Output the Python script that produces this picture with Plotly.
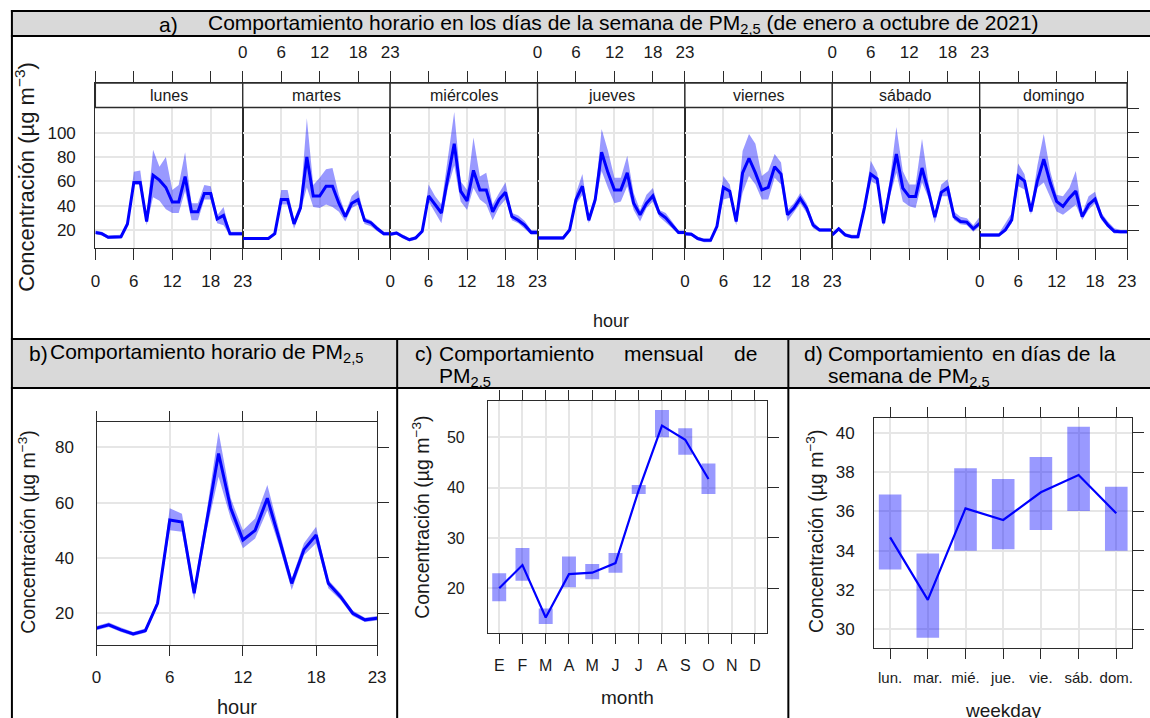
import plotly.graph_objects as go

W, H = 1150, 718

# ---- data -------------------------------------------------------------------
HOURS = list(range(24))
HOUR_TICKS = [0, 6, 12, 18, 23]
DAYS = ["lunes", "martes", "miércoles", "jueves", "viernes", "sábado", "domingo"]

LUNES_MEAN = [18, 17, 14, 14, 14.5, 25, 59, 59, 27, 65, 61, 55, 43, 43, 64, 35, 35, 50, 50, 29, 32, 17, 17, 17]
LUNES_LOW = [16.5, 15.5, 12.5, 12.5, 13, 23, 57, 57, 24, 47, 44, 37, 34, 34, 52, 28, 28, 45, 45, 25.5, 24, 15.5, 15.5, 15.5]
LUNES_HIGH = [19.5, 18.5, 15.5, 15.5, 16, 27, 68, 69, 31, 86, 72, 80, 53, 57, 84, 42, 42, 57, 56, 32, 39, 18.5, 18.5, 18.5]

MARTES_MEAN = [13, 13, 13, 13, 13, 17, 45, 45, 25, 38, 80, 48, 48, 56, 56, 42, 31, 42, 45, 28, 26, 21, 17, 17]
MARTES_LOW = [12, 12, 12, 12, 12, 15.5, 41, 41, 21, 35, 55, 39, 38, 41, 39, 35, 27, 38, 41, 25, 23, 19, 15.5, 15.5]
MARTES_HIGH = [14, 14, 14, 14, 14, 18.5, 53, 53, 28, 43, 112, 57, 63, 70, 71, 49, 34, 48, 53, 30, 28, 23, 18.5, 18.5]

MIERCOLES_MEAN = [16.5, 17.5, 14.5, 12, 13.5, 19, 48, 41, 34, 63, 91, 52, 44, 69, 53, 53, 35, 45, 51, 31, 28, 24, 18, 18]
MIERCOLES_LOW = [15, 16, 13, 10.5, 12, 17.5, 43.5, 35, 25.5, 54.5, 73, 43.5, 36.5, 54.5, 45, 41, 28, 39, 45, 28, 25.5, 21, 16, 16]
MIERCOLES_HIGH = [18, 19, 16, 13.5, 15, 20.5, 57.5, 48, 41, 77, 117, 60, 53, 96, 64, 67, 41, 50.5, 59, 34, 32, 27.5, 20, 20]

JUEVES_MEAN = [13.5, 13.5, 13.5, 13.5, 13.5, 20, 45, 56, 28, 45, 84, 67, 53, 53, 67, 42, 32.5, 42, 48, 34, 30, 24, 18, 18]
JUEVES_LOW = [12, 12, 12, 12, 12, 18.5, 41, 49, 25.5, 41, 68.5, 54.5, 42, 43.5, 56, 36.5, 27, 38, 43.5, 31, 26.5, 21.5, 16.5, 16.5]
JUEVES_HIGH = [15, 15, 15, 15, 15, 21.5, 50.5, 66, 31, 49, 103, 85, 63, 63, 81, 50.5, 36.5, 49, 54.5, 36.5, 34, 27, 19.5, 19.5]

VIERNES_MEAN = [17, 16.5, 13, 11.5, 11.5, 23, 55, 52, 27, 67, 79, 67, 53, 55, 72, 66, 32.5, 38, 46, 38, 24, 20, 20, 20]
VIERNES_LOW = [15.5, 15, 11.5, 10, 10, 21, 45, 46.5, 24, 50.5, 64.5, 57.5, 45, 45, 63, 57.5, 27, 34, 42, 34, 21.5, 18.5, 18.5, 18.5]
VIERNES_HIGH = [18.5, 18, 14.5, 13, 13, 25, 64.5, 57.5, 29.5, 85, 99, 91, 64.5, 68.5, 82.5, 75.5, 36.5, 42, 50.5, 42, 27, 21.5, 21.5, 21.5]

SABADO_MEAN = [16, 21, 16, 14.5, 14.5, 38, 66, 62, 25.5, 53, 82.5, 54.5, 47.5, 47.5, 71, 52, 30.5, 51, 54.5, 31, 27, 26.5, 21, 25.5]
SABADO_LOW = [14.5, 19.5, 14.5, 13, 13, 35, 60, 57.5, 23, 47.8, 67, 43.5, 39.5, 38, 59, 46.5, 25.5, 47.8, 47.8, 28.3, 24.7, 24, 18.6, 22.8]
SABADO_HIGH = [17.5, 22.5, 17.5, 16, 16, 41, 77, 67, 29.7, 61.7, 104.7, 68.6, 57.5, 57.5, 95, 59, 34, 57.5, 61.7, 35, 31, 29.7, 24, 31]

DOMINGO_MEAN = [15.8, 15.8, 15.8, 15.8, 20, 28.3, 64.4, 60.3, 35.3, 60.3, 78.3, 59, 43.6, 39.4, 46.4, 52, 31, 40.8, 45.5, 31, 24, 19, 18.6, 18.6]
DOMINGO_LOW = [14.3, 14.3, 14.3, 14.3, 18.6, 25.5, 56, 53.3, 32.5, 54.7, 59, 47.8, 35.3, 32.5, 36.7, 40.8, 28.3, 36.7, 42, 28.3, 22, 17.2, 17.1, 17.1]
DOMINGO_HIGH = [17.3, 17.3, 17.3, 17.3, 25.5, 34, 74.7, 65.8, 38, 72.8, 99, 68.6, 49, 47.8, 54.7, 68.6, 34, 47.8, 51.4, 34, 27, 21.4, 20.1, 20.1]

HOUR_MEAN = [14.6, 15.8, 14, 12.5, 13.7, 23.6, 53.7, 53, 27.2, 52.5, 77.8, 58, 46.5, 50, 61.6, 46.5, 30.8, 43, 48.3, 30.8, 26, 20, 17.6, 18.2]
HOUR_LOW = [13.8, 15, 13.2, 11.8, 12.9, 22.5, 50, 49.5, 24.8, 49.5, 69.4, 54.3, 43.5, 47, 57.3, 44, 28.4, 41, 45.3, 29, 24.8, 19, 16.8, 17.4]
HOUR_HIGH = [15.4, 16.6, 14.8, 13.2, 14.5, 24.7, 58, 56, 29.6, 56, 85.7, 61.6, 50, 54.3, 66.4, 50, 32.6, 45.3, 51.3, 32, 27.2, 21, 18.4, 19]

MONTHS = ["E", "F", "M", "A", "M", "J", "J", "A", "S", "O", "N", "D"]
MONTH_MEAN = [20, 24.6, 14.2, 22.8, 23.1, 25, 39.5, 52.3, 49.5, 41.7]
MONTH_LOW = [17.4, 21.5, 12.9, 20.2, 21.8, 23.1, 38.7, 50, 46.5, 38.7]
MONTH_HIGH = [23, 28, 16, 26.3, 24.8, 27, 40.5, 55.4, 51.8, 44.8]

WEEKDAYS = ["lun.", "mar.", "mié.", "jue.", "vie.", "sáb.", "dom."]
WEEKDAY_MEAN = [34.68, 31.5, 36.15, 35.56, 36.97, 37.85, 35.9]
WEEKDAY_LOW = [33.05, 29.58, 34.0, 34.08, 35.05, 36.02, 34.0]
WEEKDAY_HIGH = [36.86, 33.86, 38.19, 37.64, 38.76, 40.3, 37.25]

DAY_SERIES = [
    (LUNES_MEAN, LUNES_LOW, LUNES_HIGH),
    (MARTES_MEAN, MARTES_LOW, MARTES_HIGH),
    (MIERCOLES_MEAN, MIERCOLES_LOW, MIERCOLES_HIGH),
    (JUEVES_MEAN, JUEVES_LOW, JUEVES_HIGH),
    (VIERNES_MEAN, VIERNES_LOW, VIERNES_HIGH),
    (SABADO_MEAN, SABADO_LOW, SABADO_HIGH),
    (DOMINGO_MEAN, DOMINGO_LOW, DOMINGO_HIGH),
]

# ---- styling ----------------------------------------------------------------
BAND = "rgba(0,0,255,0.4)"
LINE = "#0000ff"
GRID = "#e6e6e6"
AXC = "#2b2b2b"
TXT = "#1a1a1a"
FONT = "Liberation Sans, Arial, sans-serif"
YTITLE = "Concentración (µg m<sup>−3</sup>)"
PM = "PM<sub>2,5</sub>"


def px(x):
    return x / W


def py(y):
    return 1 - y / H


def sfx(n):
    return "" if n == 1 else str(n)


fig = go.Figure()
layout = {}


def add_band(x, lo, hi, n):
    fig.add_trace(go.Scatter(x=x, y=lo, mode="lines", line=dict(width=0),
                             xaxis="x" + sfx(n), yaxis="y" + sfx(n), hoverinfo="skip"))
    fig.add_trace(go.Scatter(x=x, y=hi, mode="lines", line=dict(width=0), fill="tonexty",
                             fillcolor=BAND, xaxis="x" + sfx(n), yaxis="y" + sfx(n), hoverinfo="skip"))


def frame_axis(**kw):
    base = dict(showline=True, mirror=True, linecolor=AXC, linewidth=1.3, zeroline=False,
                gridcolor=GRID, gridwidth=1.5, tickcolor=AXC, tickwidth=1)
    base.update(kw)
    return base


shapes = []
annotations = []


def rect(x0, y0, x1, y1, color, line=None, layer="below"):
    shapes.append(dict(type="rect", xref="paper", yref="paper", x0=px(x0), x1=px(x1),
                       y0=py(y1), y1=py(y0), fillcolor=color, layer=layer,
                       line=line or dict(width=0)))


def hline(y, x0, x1):
    shapes.append(dict(type="line", xref="paper", yref="paper", x0=px(x0), x1=px(x1),
                       y0=py(y), y1=py(y), line=dict(color="black", width=2)))


def vline(x, y0, y1):
    shapes.append(dict(type="line", xref="paper", yref="paper", x0=px(x), x1=px(x),
                       y0=py(y0), y1=py(y1), line=dict(color="black", width=2)))


def text(x, y, s, size=21, xanchor="left", angle=0, color="black"):
    annotations.append(dict(xref="paper", yref="paper", x=px(x), y=py(y), text=s, showarrow=False,
                            xanchor=xanchor, yanchor="middle", textangle=angle,
                            font=dict(family=FONT, size=size, color=color)))


# ---- panel a: one small panel per weekday -----------------------------------
# the axis box runs from the strip top to the panel bottom; the strip is drawn over it
PANEL_X0, PANEL_W = 91.5, 149.2
STRIP_TOP, PLOT_TOP, PLOT_BOT = 83, 107.5, 248
A_RANGE = [5.2, 140.9]

for i, (day, (mean, low, high)) in enumerate(zip(DAYS, DAY_SERIES)):
    n = i + 1
    x0, x1 = PANEL_X0 + i * PANEL_W, PANEL_X0 + (i + 1) * PANEL_W
    add_band(HOURS, low, high, n)
    fig.add_trace(go.Scatter(x=HOURS, y=mean, mode="lines", line=dict(color=LINE, width=3),
                             xaxis="x" + sfx(n), yaxis="y" + sfx(n), hoverinfo="skip"))

    layout["xaxis" + sfx(n)] = frame_axis(
        domain=[px(x0), px(x1)], anchor="y" + sfx(n), range=[0, 23], tickvals=HOUR_TICKS,
        side="bottom" if i % 2 == 0 else "top", ticks="outside", ticklen=11, mirror="ticks",
        ticklabelstandoff=6, tickfont=dict(family=FONT, size=17, color=TXT))
    yax = frame_axis(domain=[py(PLOT_BOT), py(STRIP_TOP)], anchor="x" + sfx(n), range=A_RANGE,
                     tickvals=[20, 40, 60, 80, 100], ticks="", showticklabels=False)
    if i == 0:
        yax.update(showticklabels=True, ticklabelstandoff=15,
                   tickfont=dict(family=FONT, size=17, color=TXT))
    if i == 6:
        yax.update(side="right", ticks="outside", ticklen=11, tickvals=[20, 40, 60, 80, 100, 120])
    layout["yaxis" + sfx(n)] = yax

    rect(x0, STRIP_TOP, x1, PLOT_TOP, "white", line=dict(color=AXC, width=1.3), layer="above")
    text((x0 + x1) / 2, (STRIP_TOP + PLOT_TOP) / 2, day, size=16, xanchor="center", color=TXT)

# ---- panel b: hourly ---------------------------------------------------------
B = dict(x0=92.7, x1=376.7, top=421.7, bot=645, yr=[8.5, 89.3])
add_band(HOURS, HOUR_LOW, HOUR_HIGH, 15)
fig.add_trace(go.Scatter(x=HOURS, y=HOUR_MEAN, mode="lines", line=dict(color=LINE, width=3),
                         xaxis="x15", yaxis="y16", hoverinfo="skip"))
layout["xaxis15"] = frame_axis(domain=[px(B["x0"]), px(B["x1"])], anchor="y15", range=[0, 23],
                               tickvals=HOUR_TICKS, ticks="outside", ticklen=10, mirror="ticks",
                               ticklabelstandoff=6, tickfont=dict(family=FONT, size=17, color=TXT))
layout["yaxis15"] = frame_axis(domain=[py(B["bot"]), py(B["top"])], anchor="x15", range=B["yr"],
                               tickvals=[20, 40, 60, 80], ticks="", ticklabelstandoff=18,
                               tickfont=dict(family=FONT, size=17, color=TXT))
layout["yaxis16"] = dict(overlaying="y15", anchor="x15", side="right", range=B["yr"],
                         tickvals=[20, 40, 60, 80], ticks="outside", ticklen=11, tickcolor=AXC,
                         showticklabels=False, showgrid=False, zeroline=False, showline=False)

# ---- panel c: monthly -------------------------------------------------------
C = dict(x0=489, x1=771, top=401, bot=633.3, yr=[11.05, 57.2])
month_idx = list(range(len(MONTH_MEAN)))
fig.add_trace(go.Bar(x=month_idx, base=MONTH_LOW, y=[h - l for h, l in zip(MONTH_HIGH, MONTH_LOW)],
                     width=0.6, marker=dict(color=BAND, line=dict(width=0)),
                     xaxis="x17", yaxis="y17", hoverinfo="skip"))
fig.add_trace(go.Scatter(x=month_idx, y=MONTH_MEAN, mode="lines", line=dict(color=LINE, width=2.2),
                         xaxis="x17", yaxis="y18", hoverinfo="skip"))
layout["xaxis17"] = frame_axis(domain=[px(C["x0"]), px(C["x1"])], anchor="y17", range=[-0.48, 11.5],
                               tickvals=list(range(len(MONTHS))), ticktext=MONTHS, ticks="outside",
                               ticklen=10, mirror="ticks", ticklabelstandoff=7, tickangle=0,
                               tickfont=dict(family=FONT, size=16, color=TXT))
layout["yaxis17"] = frame_axis(domain=[py(C["bot"]), py(C["top"])], anchor="x17", range=C["yr"],
                               tickvals=[20, 30, 40, 50], ticks="", ticklabelstandoff=19,
                               tickfont=dict(family=FONT, size=16, color=TXT))
layout["yaxis18"] = dict(overlaying="y17", anchor="x17", side="right", range=C["yr"],
                         tickvals=[20, 30, 40, 50], ticks="outside", ticklen=11, tickcolor=AXC,
                         showticklabels=False, showgrid=False, zeroline=False, showline=False)

# ---- panel d: weekday -------------------------------------------------------
D = dict(x0=880, x1=1141, top=417.7, bot=647.7, yr=[29.07, 40.76])
wd_idx = list(range(len(WEEKDAYS)))
fig.add_trace(go.Bar(x=wd_idx, base=WEEKDAY_LOW, y=[h - l for h, l in zip(WEEKDAY_HIGH, WEEKDAY_LOW)],
                     width=0.6, marker=dict(color=BAND, line=dict(width=0)),
                     xaxis="x19", yaxis="y19", hoverinfo="skip"))
fig.add_trace(go.Scatter(x=wd_idx, y=WEEKDAY_MEAN, mode="lines", line=dict(color=LINE, width=2.2),
                         xaxis="x19", yaxis="y20", hoverinfo="skip"))
layout["xaxis19"] = frame_axis(domain=[px(D["x0"]), px(D["x1"])], anchor="y19", range=[-0.42, 6.42],
                               tickvals=wd_idx, ticktext=WEEKDAYS, ticks="outside", ticklen=10,
                               mirror="ticks", ticklabelstandoff=6, tickangle=0,
                               tickfont=dict(family=FONT, size=15, color=TXT))
layout["yaxis19"] = frame_axis(domain=[py(D["bot"]), py(D["top"])], anchor="x19", range=D["yr"],
                               tickvals=[30, 32, 34, 36, 38, 40], ticks="", ticklabelstandoff=15,
                               tickfont=dict(family=FONT, size=17, color=TXT))
layout["yaxis20"] = dict(overlaying="y19", anchor="x19", side="right", range=D["yr"],
                         tickvals=[30, 32, 34, 36, 38, 40], ticks="outside", ticklen=11, tickcolor=AXC,
                         showticklabels=False, showgrid=False, zeroline=False, showline=False)

# ---- table frame and headers --------------------------------------------------
rect(7, 11, 1160, 36, "#d9d9d9")
rect(7, 339, 1160, 388, "#d9d9d9")
for y in (11, 36, 339, 388):
    hline(y, 6, 1160)
vline(7, 10, 730)
vline(397, 339, 730)
vline(793, 339, 730)

text(154, 24, "a)")
text(203, 24, "Comportamiento horario en los días de la semana de " + PM + " (de enero a octubre de 2021)")
text(22, 353, "b)")
text(44, 353, "Comportamiento horario de " + PM)
text(413, 353, "c)")
text(437, 353, "Comportamiento")
text(625, 353, "mensual")
text(736, 353, "de")
text(437, 377, PM)
text(807, 353, "d)")
for x, w in ((831, "Comportamiento"), (997, "en"), (1026, "días"), (1073, "de"), (1105, "la")):
    text(x, 353, w)
text(831, 377, "semana de " + PM)

text(20, 177, YTITLE, size=22, xanchor="center", angle=-90, color=TXT)
text(613, 321, "hour", size=18, xanchor="center", color=TXT)
text(22, 532, YTITLE, size=19.5, xanchor="center", angle=-90, color=TXT)
text(235, 707, "hour", size=20, xanchor="center", color=TXT)
text(421, 517, YTITLE, size=19.5, xanchor="center", angle=-90, color=TXT)
text(630, 697, "month", size=19, xanchor="center", color=TXT)
text(820, 532, YTITLE, size=19.5, xanchor="center", angle=-90, color=TXT)
text(1010, 710, "weekday", size=19, xanchor="center", color=TXT)

fig.update_layout(
    width=W, height=H, autosize=False, margin=dict(l=0, r=0, t=0, b=0),
    paper_bgcolor="white", plot_bgcolor="white", showlegend=False,
    shapes=shapes, annotations=annotations, **layout)

# the page's default body margin would push the figure off the window
fig.write_html("out.html", config={"displayModeBar": False},
               post_script="document.body.style.margin='0';")
